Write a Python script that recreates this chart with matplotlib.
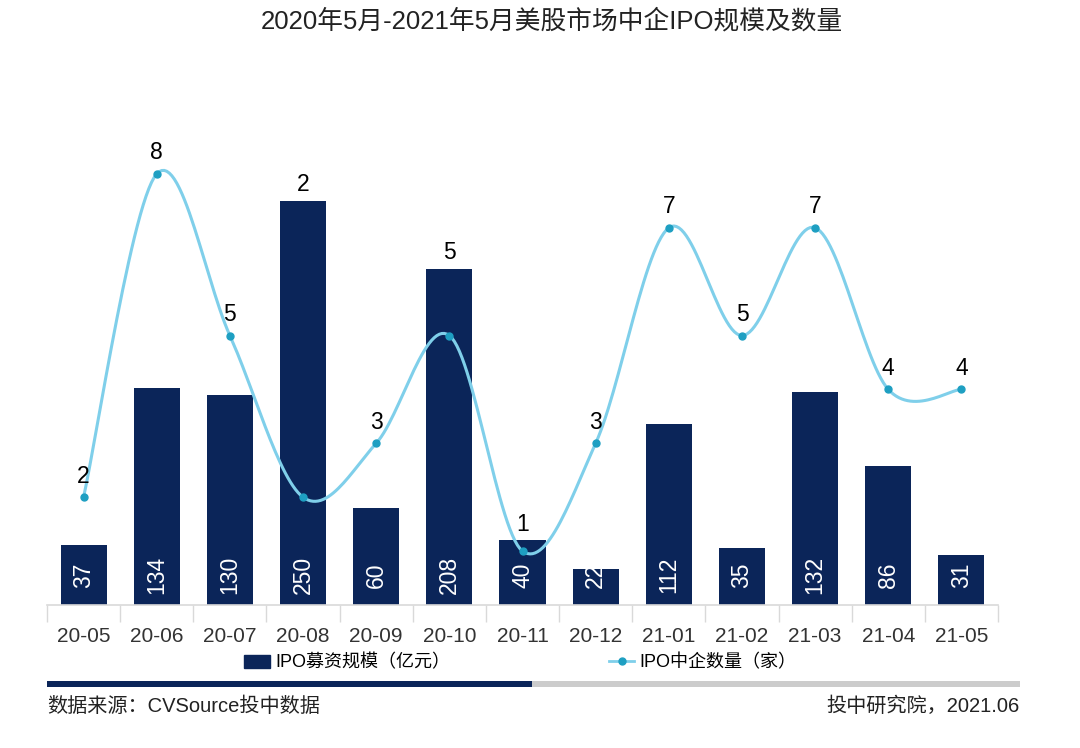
import numpy as np
import matplotlib.pyplot as plt
from matplotlib.lines import Line2D
from matplotlib.patches import Patch, Rectangle

plt.rcParams['font.family'] = ['Liberation Sans', 'Noto Sans CJK SC', 'DejaVu Sans']

# Datos
months = ['20-05', '20-06', '20-07', '20-08', '20-09', '20-10', '20-11',
          '20-12', '21-01', '21-02', '21-03', '21-04', '21-05']
funds = [37, 134, 130, 250, 60, 208, 40, 22, 112, 35, 132, 86, 31]   # 亿元
counts = [2, 8, 5, 2, 3, 5, 1, 3, 7, 5, 7, 4, 4]                    # 家

bar_color = '#0b2559'
line_color = '#7fcfea'
marker_color = '#1e9fc2'
axis_gray = '#d9d9d9'

BAR_MAX = 300
COUNT_MAX = 9


def smooth_curve(xs, ys, n=30):
    """Curva suavizada tipo Excel (Catmull-Rom / Bezier) que pasa por los puntos."""
    p = np.column_stack([xs, ys]).astype(float)
    p = np.vstack([p[0], p, p[-1]])
    out = []
    t = np.linspace(0, 1, n)[:, None]
    for k in range(1, len(p) - 2):
        p0, p1, p2, p3 = p[k - 1], p[k], p[k + 1], p[k + 2]
        c1 = p1 + (p2 - p0) / 6
        c2 = p2 - (p3 - p1) / 6
        seg = ((1 - t) ** 3) * p1 + 3 * ((1 - t) ** 2) * t * c1 + 3 * (1 - t) * t ** 2 * c2 + t ** 3 * p2
        out.append(seg if k == 1 else seg[1:])
    out = np.vstack(out)
    return out[:, 0], out[:, 1]


fig = plt.figure(figsize=(10.8, 7.48), dpi=100)
ax = fig.add_axes([0.0435, 0.1912, 0.8806, 0.6484])
x = np.arange(len(months))

ax.bar(x, funds, width=0.63, color=bar_color, zorder=2)
ax.set_xlim(-0.5, len(months) - 0.5)
ax.set_ylim(0, BAR_MAX)
ax.set_yticks([])
for s in ['top', 'right', 'left']:
    ax.spines[s].set_visible(False)
ax.spines['bottom'].set_color(axis_gray)
ax.spines['bottom'].set_linewidth(1.2)
ax.set_xticks(x)
ax.set_xticklabels(months, fontsize=15, color='#333333')
ax.tick_params(axis='x', which='major', length=0, pad=16)
ax.set_xticks(np.arange(-0.5, len(months)), minor=True)
ax.tick_params(axis='x', which='minor', length=12, color=axis_gray, width=1)

for i, v in enumerate(funds):
    ax.annotate(str(v), xy=(i, 0), xytext=(0, 30), textcoords='offset pixels',
                rotation=90, ha='center', va='center', color='white', fontsize=16.5)

# Segundo eje para el número de empresas
ax2 = ax.twinx()
ax2.set_ylim(0, COUNT_MAX)
ax2.set_yticks([])
for s in ax2.spines.values():
    s.set_visible(False)
sx, sy = smooth_curve(x, counts)
ax2.plot(sx, sy, color=line_color, linewidth=2.2, zorder=3)
ax2.plot(x, counts, 'o', color=marker_color, markersize=5, zorder=4)

# Etiquetas: encima del punto, o encima de la barra si la barra es más alta
for i, c in enumerate(counts):
    bar_top = funds[i] * COUNT_MAX / BAR_MAX
    if bar_top > c:
        ax2.annotate(str(c), xy=(i, bar_top), xytext=(0, 16), textcoords='offset pixels',
                     ha='center', va='center', fontsize=16.5, color='black')
    else:
        ax2.annotate(str(c), xy=(i, c), xytext=(0, 21), textcoords='offset pixels',
                     ha='center', va='center', fontsize=16.5, color='black')

fig.text(0.511, 0.972, '2020年5月-2021年5月美股市场中企IPO规模及数量',
         ha='center', va='center', fontsize=18.5, color='#222222')

handles = [Patch(color=bar_color),
           Line2D([], [], color=line_color, linewidth=2, marker='o',
                  markerfacecolor=marker_color, markeredgecolor=marker_color, markersize=5)]
fig.legend(handles, ['IPO募资规模（亿元）', 'IPO中企数量（家）'], loc='center',
           bbox_to_anchor=(0.482, 1 - 663 / 748), ncol=2, frameon=False, fontsize=13,
           handlelength=1.4, handletextpad=0.3, columnspacing=8.8)

# Barra decorativa inferior
fig.add_artist(Rectangle((47 / 1080, 1 - 687 / 748), (1020 - 47) / 1080, 6 / 748,
                         transform=fig.transFigure, color='#cccccc', lw=0))
fig.add_artist(Rectangle((47 / 1080, 1 - 687 / 748), (532 - 47) / 1080, 6 / 748,
                         transform=fig.transFigure, color=bar_color, lw=0))

fig.text(47 / 1080, 1 - 706 / 748, '数据来源：CVSource投中数据', ha='left', va='center',
         fontsize=14.5, color='#222222')
fig.text(1020 / 1080, 1 - 706 / 748, '投中研究院，2021.06', ha='right', va='center',
         fontsize=14.5, color='#222222')

fig.savefig('out.png', dpi=100)
